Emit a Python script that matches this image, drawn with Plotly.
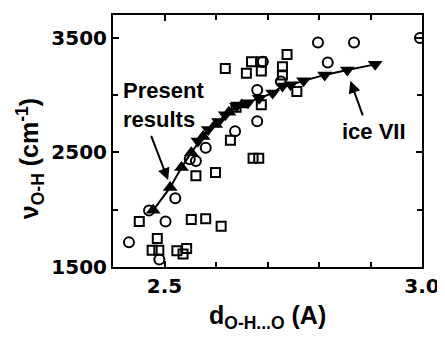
import plotly.graph_objects as go

# open circles
circ_x = [2.431, 2.470, 2.502, 2.490, 2.521, 2.549, 2.561, 2.580, 2.637, 2.680, 2.680, 2.691, 2.726, 2.798, 2.817, 2.868, 2.996]
circ_y = [1715, 1993, 1898, 1565, 2100, 2441, 2426, 2541, 2686, 2773, 3045, 3292, 3119, 3459, 3286, 3459, 3500]

# open squares
sq_x = [2.451, 2.486, 2.476, 2.489, 2.524, 2.536, 2.543, 2.552, 2.580, 2.610, 2.561, 2.599, 2.628, 2.639,
        2.618, 2.659, 2.669, 2.688, 2.688, 2.672, 2.683, 2.729, 2.729, 2.738, 2.757, 2.688]
sq_y = [1898, 1748, 1647, 1647, 1641, 1613, 1662, 1915, 1921, 1855, 2296, 2325, 2606, 2894,
        3234, 3191, 3292, 3292, 3212, 2450, 2450, 3249, 3177, 3355, 3032, 2917]

# present results (filled up-triangles)
pr_x = [2.478, 2.511, 2.533, 2.552, 2.575, 2.599, 2.625, 2.650]
pr_y = [1995, 2195, 2368, 2498, 2640, 2744, 2850, 2915]

# ice VII (filled down-triangles)
ice_x = [2.565, 2.585, 2.605, 2.618, 2.640, 2.662, 2.684, 2.710, 2.729, 2.745, 2.770, 2.811, 2.855, 2.909]
ice_y = [2600, 2700, 2770, 2830, 2903, 2935, 2974, 3018, 3080, 3090, 3125, 3177, 3220, 3269]

x_ticks = [2.5, 3.0]
x_tick_labels = ["2.5", "3.0"]
y_ticks = [1500, 2500, 3500]
y_tick_labels = ["1500", "2500", "3500"]

fig = go.Figure()
fig.add_trace(go.Scatter(x=circ_x, y=circ_y, mode="markers",
                         marker=dict(symbol="circle-open", size=10, color="black", line=dict(width=2))))
fig.add_trace(go.Scatter(x=sq_x, y=sq_y, mode="markers",
                         marker=dict(symbol="square-open", size=9, color="black", line=dict(width=2))))
fig.add_trace(go.Scatter(x=pr_x, y=pr_y, mode="lines+markers", line=dict(color="black", width=2),
                         marker=dict(symbol="triangle-up", size=13, color="black")))
fig.add_trace(go.Scatter(x=ice_x, y=ice_y, mode="lines+markers", line=dict(color="black", width=2),
                         marker=dict(symbol="triangle-down", size=13, color="black")))

txtfont = dict(family="Liberation Sans", size=22, color="black", weight="bold")
fig.add_annotation(x=2.415, y=2915, xref="x", yref="y", text="Present<br>results", showarrow=False,
                   xanchor="left", yanchor="middle", align="left", font=txtfont)
fig.add_annotation(x=2.507, y=2259, ax=2.473, ay=2658, xref="x", yref="y", axref="x", ayref="y",
                   text="", showarrow=True, arrowhead=2, arrowsize=1.2, arrowwidth=2, arrowcolor="black")
fig.add_annotation(x=2.907, y=2680, xref="x", yref="y", text="ice VII", showarrow=False,
                   xanchor="center", yanchor="middle", font=txtfont)
fig.add_annotation(x=2.861, y=3125, ax=2.886, ay=2810, xref="x", yref="y", axref="x", ayref="y",
                   text="", showarrow=True, arrowhead=2, arrowsize=1.2, arrowwidth=2, arrowcolor="black")

titlefont = dict(family="Liberation Sans", size=25, color="black", weight="bold")
fig.add_annotation(xref="paper", yref="paper", x=-0.27, y=0.43, text="ν<sub>O-H</sub> (cm<sup>-1</sup>)",
                   showarrow=False, textangle=-90, xanchor="center", yanchor="middle", font=titlefont)
fig.add_annotation(xref="paper", yref="paper", x=0.5, y=-0.2, text="d<sub>O-H...O</sub> (A)",
                   showarrow=False, xanchor="center", yanchor="middle", font=titlefont)

tickfont = dict(family="DejaVu Sans", size=20, color="black", weight="bold")
fig.update_xaxes(range=[2.4, 3.0], tickmode="array", tickvals=x_ticks, ticktext=x_tick_labels,
                 ticks="inside", ticklen=6, tickwidth=2, tickcolor="black", showline=True, linewidth=2,
                 linecolor="black", mirror="ticks", showgrid=False, zeroline=False, tickfont=tickfont,
                 ticklabeloverflow="allow",
                 minor=dict(dtick=0.1, tick0=2.4, ticks="inside", ticklen=5, tickwidth=2, tickcolor="black", showgrid=False))
fig.update_yaxes(range=[1500, 3700], tickmode="array", tickvals=y_ticks, ticktext=y_tick_labels,
                 ticks="inside", ticklen=6, tickwidth=2, tickcolor="black", showline=True, linewidth=2,
                 linecolor="black", mirror="ticks", showgrid=False, zeroline=False, tickfont=tickfont,
                 ticklabeloverflow="allow",
                 minor=dict(dtick=500, tick0=1500, ticks="inside", ticklen=5, tickwidth=2, tickcolor="black", showgrid=False))
fig.update_layout(width=437, height=331, margin=dict(l=105, r=15, t=5, b=72),
                  plot_bgcolor="white", paper_bgcolor="white", showlegend=False)
fig.write_html("out.html")
